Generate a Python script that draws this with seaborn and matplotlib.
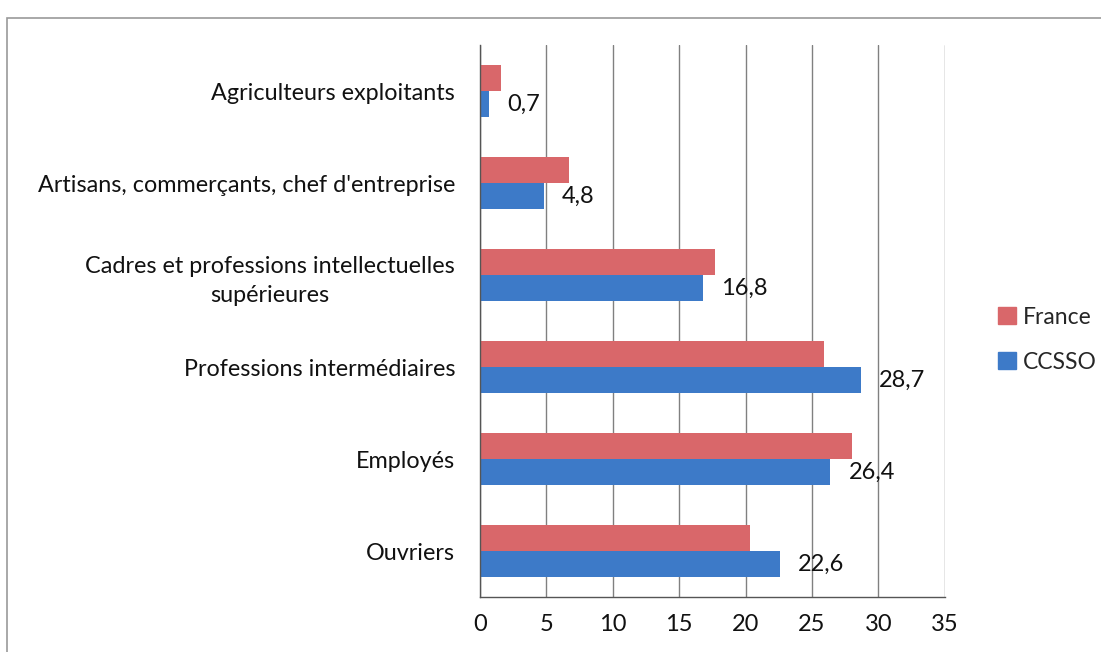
import matplotlib
matplotlib.use("Agg")
import matplotlib.pyplot as plt
import matplotlib.patches as mpatches
import numpy as np
import pandas as pd
import seaborn as sns

categories = [
    "Agriculteurs exploitants",
    "Artisans, commerçants, chef d'entreprise",
    "Cadres et professions intellectuelles\nsupérieures",
    "Professions intermédiaires",
    "Employés",
    "Ouvriers",
]
france = [1.6, 6.7, 17.7, 25.9, 28.0, 20.3]
ccsso = [0.7, 4.8, 16.8, 28.7, 26.4, 22.6]
series = ["France", "CCSSO"]
palette = {"France": "#D9676A", "CCSSO": "#3D7AC8"}
x_ticks = [0, 5, 10, 15, 20, 25, 30, 35]

df = pd.DataFrame({
    "categorie": categories * 2,
    "valeur": france + ccsso,
    "serie": ["France"] * len(categories) + ["CCSSO"] * len(categories),
})

sns.set_theme(style="white")
plt.rcParams["font.family"] = ["Lato", "DejaVu Sans"]

fig = plt.figure(figsize=(11.01, 6.52), dpi=100)
ax = fig.add_axes([0.436, 0.084, 0.422, 0.847])

sns.barplot(data=df, y="categorie", x="valeur", hue="serie", hue_order=series,
            order=categories, palette=palette, orient="h", width=0.57,
            linewidth=0, saturation=1, ax=ax)

ax.set_xlim(0, 35)
ax.set_ylim(len(categories) - 0.5, -0.5)
ax.set_xticks(x_ticks)
ax.set_xticklabels([str(t) for t in x_ticks], fontsize=17, color="#111111")
ax.set_xlabel("")
ax.set_ylabel("")
ax.set_yticks(range(len(categories)))
ax.set_yticklabels(categories, fontsize=16.8, color="#111111",
                   multialignment="center", linespacing=1.45)
ax.tick_params(axis="y", length=0, pad=18)
ax.set_yticks(np.arange(-0.5, len(categories)), minor=True)
ax.tick_params(axis="y", which="minor", length=5, color="#555555", direction="out")
ax.tick_params(axis="x", length=5, color="#555555", direction="out", pad=7)

ax.grid(axis="x", color="#808080", linewidth=1)
ax.set_axisbelow(True)
for side in ["top", "right"]:
    ax.spines[side].set_visible(False)
for side in ["left", "bottom"]:
    ax.spines[side].set_color("#555555")
    ax.spines[side].set_linewidth(1)

# data labels for CCSSO only
ccsso_bars = ax.containers[1]
ax.bar_label(ccsso_bars, labels=[f"{v:.1f}".replace(".", ",") for v in ccsso],
             padding=13, fontsize=17, color="#111111")

ax.legend_.remove()
handles = [mpatches.Patch(color=palette[s], label=s) for s in series]
fig.legend(handles=handles, loc="center left", bbox_to_anchor=(0.888, 0.479),
           frameon=False, fontsize=16.5, handlelength=0.75, handleheight=0.75,
           handletextpad=0.3, labelspacing=1.05)

# chart frame
fig.patches.append(mpatches.Rectangle((0.006, -0.01), 1.0, 0.982, transform=fig.transFigure,
                                      fill=False, edgecolor="#9a9a9a", linewidth=1.2))

fig.savefig("out.png", dpi=100)
